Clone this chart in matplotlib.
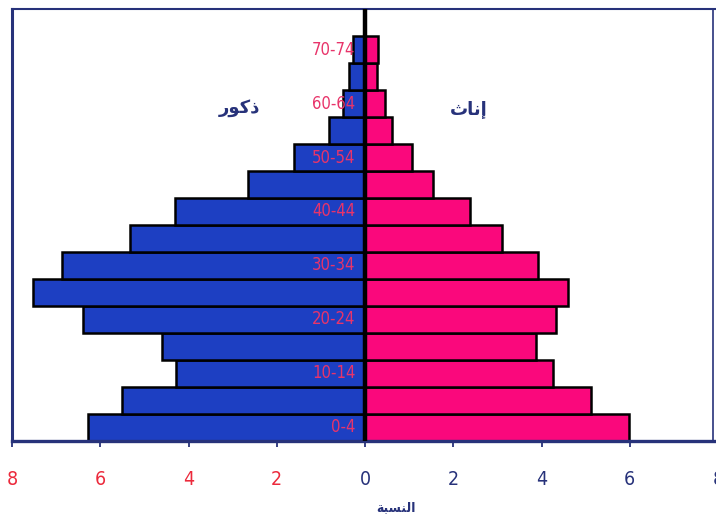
import matplotlib
matplotlib.use("Agg")
import matplotlib.pyplot as plt
import numpy as np
from matplotlib.lines import Line2D
from matplotlib import font_manager

age_groups = ["0-4", "5-9", "10-14", "15-19", "20-24", "25-29", "30-34", "35-39",
              "40-44", "45-49", "50-54", "55-59", "60-64", "65-69", "70-74"]
male = [6.28, 5.50, 4.28, 4.59, 6.39, 7.52, 6.86, 5.33, 4.31, 2.65, 1.60, 0.81, 0.49, 0.36, 0.27]
female = [5.98, 5.12, 4.26, 3.88, 4.33, 4.61, 3.93, 3.11, 2.38, 1.55, 1.06, 0.61, 0.45, 0.27, 0.29]
shown_ages = ["0-4", "10-14", "20-24", "30-34", "40-44", "50-54", "60-64", "70-74"]
tick_values = [-8, -6, -4, -2, 0, 2, 4, 6, 8]
tick_labels = ["8", "6", "4", "2", "0", "2", "4", "6", "8"]

# Arabic labels (presentation forms, visual order) : ذكور / إناث / النسبة
label_male = "\uFEAD\uFEEE\uFEDB\uFEAB"
label_female = "\uFE99\uFE8E\uFEE7\uFE87"
label_x = "\uFE94\uFE92\uFEB4\uFEE8\uFEDF\uFE8D"

BLUE = "#1d3fc2"
PINK = "#fa087c"
NAVY = "#27327a"
RED = "#ec2a3c"
AGE_RED = "#e8346a"

names = {f.name for f in font_manager.fontManager.ttflist}
if "Liberation Sans Narrow" in names:
    NARROW = dict(family=["Liberation Sans Narrow", "DejaVu Sans"])
else:
    NARROW = dict(family=["DejaVu Sans"], fontstretch="condensed")
ARABIC = ["DejaVu Sans"]

fig = plt.figure(figsize=(7.16, 5.17), dpi=100)
ax = fig.add_axes([12 / 716, 76 / 517, 706 / 716, 432 / 517])

y = np.arange(len(age_groups))
ax.barh(y, [-m for m in male], height=1.0, color=BLUE, edgecolor="black", linewidth=1.8, zorder=2)
ax.barh(y, female, height=1.0, color=PINK, edgecolor="black", linewidth=1.8, zorder=2)
ax.axvline(0, color="black", linewidth=3.2, zorder=3)

ax.set_xlim(-8, 8)
ax.set_ylim(-0.5, len(age_groups) + 0.5)

for i, g in enumerate(age_groups):
    if g in shown_ages:
        ax.text(-0.22, i, g, ha="right", va="center", fontsize=12, color=AGE_RED,
                zorder=4, **NARROW)

ax.set_yticks([])
ax.set_xticks(tick_values)
ax.set_xticklabels(tick_labels, fontsize=14, **NARROW)
for lbl, v in zip(ax.get_xticklabels(), tick_values):
    lbl.set_color(RED if v < 0 else NAVY)
ax.tick_params(axis="x", direction="out", length=4, width=1.3, color=NAVY, pad=17)

for side in ["left", "top", "bottom"]:
    ax.spines[side].set_color(NAVY)
ax.spines["left"].set_linewidth(2.2)
ax.spines["top"].set_linewidth(1.5)
ax.spines["bottom"].set_linewidth(2.4)
ax.spines["right"].set_visible(False)
ax.add_line(Line2D([0.9935, 0.9935], [0, 1], transform=ax.transAxes, color=NAVY,
                   linewidth=1.2, clip_on=False))

ax.text(-2.85, 11.85, label_male, ha="center", va="center", fontsize=13,
        fontweight="bold", color=NAVY, family=ARABIC)
ax.text(2.35, 11.8, label_female, ha="center", va="center", fontsize=13,
        fontweight="bold", color=NAVY, family=ARABIC)
ax.text(0.71, -2.95, label_x, ha="center", va="center", fontsize=9,
        fontweight="bold", color=NAVY, family=ARABIC, clip_on=False)

fig.savefig("out.png", dpi=100)
